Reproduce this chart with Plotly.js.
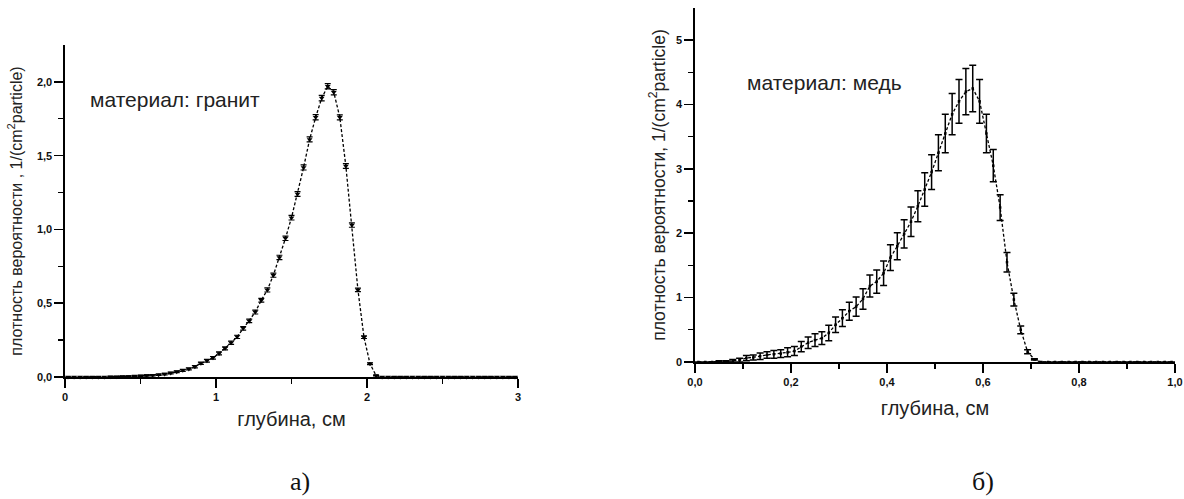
<!DOCTYPE html>
<html>
<head>
<meta charset="utf-8">
<script src="https://cdn.plot.ly/plotly-3.0.1.min.js"></script>
<style>html,body{margin:0;padding:0;background:#fff;}#chart{width:1184px;height:499px;}</style>
</head>
<body>
<div id="chart"></div>
<script>
// ---- Data: granite (left panel) ----
const graniteDepth = [0.02,0.06,0.10,0.14,0.18,0.22,0.26,0.30,0.34,0.38,0.42,0.46,0.50,0.54,0.58,0.62,0.66,0.70,0.74,0.78,0.82,0.86,0.90,0.94,0.98,1.02,1.06,1.10,1.14,1.18,1.22,1.26,1.30,1.34,1.38,1.42,1.46,1.50,1.54,1.58,1.62,1.66,1.70,1.74,1.78,1.82,1.86,1.90,1.94,1.98,2.02,2.06,2.10,2.14,2.18,2.22,2.26,2.30,2.34,2.38,2.42,2.46,2.50,2.54,2.58,2.62,2.66,2.70,2.74,2.78,2.82,2.86,2.90,2.94,2.98];
const granitePdf = [0,0,0,0,0,0,0,0.001,0.002,0.003,0.004,0.006,0.008,0.01,0.012,0.015,0.02,0.027,0.035,0.045,0.055,0.07,0.093,0.11,0.13,0.16,0.194,0.232,0.272,0.33,0.38,0.44,0.52,0.59,0.69,0.81,0.94,1.08,1.24,1.42,1.61,1.76,1.89,1.97,1.93,1.76,1.43,1.03,0.59,0.27,0.09,0.01,0,0,0,0,0,0,0,0,0,0,0,0,0,0,0,0,0,0,0,0,0,0,0];
const graniteErr = [0,0,0,0,0,0,0,0.003,0.003,0.003,0.003,0.004,0.004,0.004,0.005,0.005,0.005,0.006,0.006,0.007,0.007,0.008,0.008,0.009,0.009,0.01,0.01,0.011,0.011,0.012,0.012,0.013,0.013,0.014,0.014,0.015,0.015,0.016,0.016,0.017,0.017,0.018,0.018,0.018,0.018,0.017,0.016,0.015,0.012,0.009,0.006,0.003,0,0,0,0,0,0,0,0,0,0,0,0,0,0,0,0,0,0,0,0,0,0,0];

// ---- Data: copper (right panel) ----
const copperDepth = [0.0071,0.0214,0.0357,0.0500,0.0643,0.0786,0.0929,0.1071,0.1214,0.1357,0.1500,0.1643,0.1786,0.1929,0.2071,0.2214,0.2357,0.2500,0.2643,0.2786,0.2929,0.3071,0.3214,0.3357,0.3500,0.3643,0.3786,0.3929,0.4071,0.4214,0.4357,0.4500,0.4643,0.4786,0.4929,0.5071,0.5214,0.5357,0.5500,0.5643,0.5786,0.5929,0.6071,0.6214,0.6357,0.6500,0.6643,0.6786,0.6929,0.7071,0.7214,0.7357,0.7500,0.7643,0.7786,0.7929,0.8071,0.8214,0.8357,0.8500,0.8643,0.8786,0.8929,0.9071,0.9214,0.9357,0.9500,0.9643,0.9786,0.9929];
const copperPdf = [0,0,0,0.01,0.01,0.02,0.03,0.06,0.07,0.09,0.11,0.12,0.13,0.15,0.17,0.24,0.30,0.34,0.37,0.45,0.58,0.68,0.79,0.86,0.98,1.18,1.25,1.38,1.62,1.80,1.99,2.18,2.42,2.68,2.95,3.25,3.55,3.85,4.05,4.20,4.25,4.05,3.55,3.05,2.40,1.55,0.97,0.50,0.16,0.04,0,0,0,0,0,0,0,0,0,0,0,0,0,0,0,0,0,0,0,0];
const copperErr = [0,0,0,0.01,0.01,0.02,0.03,0.04,0.04,0.05,0.05,0.06,0.06,0.07,0.07,0.08,0.09,0.10,0.10,0.12,0.12,0.13,0.14,0.15,0.16,0.17,0.18,0.19,0.20,0.21,0.22,0.23,0.24,0.26,0.27,0.28,0.30,0.32,0.34,0.36,0.36,0.34,0.30,0.25,0.20,0.15,0.10,0.06,0.03,0.01,0,0,0,0,0,0,0,0,0,0,0,0,0,0,0,0,0,0,0,0];

// ---- Labels ----
const yTitleLeft = 'плотность вероятности , 1/(cm<sup>2</sup>particle)';
const yTitleRight = 'плотность вероятности, 1/(cm<sup>2</sup>particle)';
const xTitleText = 'глубина, см';
const labelGranite = 'материал: гранит';
const labelCopper = 'материал: медь';
const captionLeft = 'а)';
const captionRight = 'б)';

const W = 1184, H = 499;
const px = v => v / W;
const py = v => (H - v) / H;

const traceGranite = {
  x: graniteDepth, y: granitePdf, xaxis: 'x', yaxis: 'y',
  type: 'scatter', mode: 'lines+markers', cliponaxis: false,
  line: {color: 'black', width: 1.3, dash: '3px,2px'},
  marker: {symbol: 'triangle-down', size: 5, color: 'black'},
  error_y: {type: 'data', array: graniteErr, visible: true, color: 'black', thickness: 1.2, width: 3}
};
const traceCopper = {
  x: copperDepth, y: copperPdf, xaxis: 'x2', yaxis: 'y2',
  type: 'scatter', mode: 'lines+markers', cliponaxis: false,
  line: {color: 'black', width: 1.3, dash: '3px,2px'},
  marker: {symbol: 'square', size: 2.5, color: 'black'},
  error_y: {type: 'data', array: copperErr, visible: true, color: 'black', thickness: 1.5, width: 3.5}
};

const tickFont = {family: 'Liberation Sans, Arial, sans-serif', size: 11, color: '#111', weight: 'bold'};
const baseAxis = {
  showline: true, linecolor: 'black', linewidth: 1.6,
  ticks: 'outside', ticklen: 9, tickwidth: 1.6, tickcolor: 'black',
  showgrid: false, zeroline: false, automargin: false, fixedrange: true,
  tickfont: tickFont
};
const minorStyle = {ticks: 'outside', ticklen: 5, tickwidth: 1.3, tickcolor: 'black'};
const titleFont = {family: 'Liberation Sans, Arial, sans-serif', size: 20, color: '#222'};

const layout = {
  width: W, height: H,
  margin: {l: 0, r: 0, t: 0, b: 0},
  paper_bgcolor: 'white', plot_bgcolor: 'white',
  showlegend: false,
  separators: ', ',
  font: {family: 'Liberation Sans, Arial, sans-serif', color: '#111'},
  xaxis: Object.assign({}, baseAxis, {
    domain: [px(65), px(518)], anchor: 'y', range: [0, 3],
    tickvals: [0, 1, 2, 3], ticktext: ['0', '1', '2', '3'],
    minor: Object.assign({tickvals: [0.5, 1.5, 2.5]}, minorStyle),
    title: {text: xTitleText, font: titleFont, standoff: 10}
  }),
  yaxis: Object.assign({}, baseAxis, {
    domain: [py(377), py(45)], anchor: 'x', range: [0, 2.25],
    tickvals: [0, 0.5, 1, 1.5, 2], tickformat: '.1f',
    minor: Object.assign({tickvals: [0.25, 0.75, 1.25, 1.75]}, minorStyle),
    title: {text: yTitleLeft, font: {family: 'Liberation Sans, Arial, sans-serif', size: 16, color: '#222'}, standoff: 10}
  }),
  xaxis2: Object.assign({}, baseAxis, {
    domain: [px(695), px(1175)], anchor: 'y2', range: [0, 1],
    tickvals: [0, 0.2, 0.4, 0.6, 0.8, 1.0], tickformat: '.1f',
    minor: Object.assign({tickvals: [0.1, 0.3, 0.5, 0.7, 0.9]}, minorStyle),
    title: {text: xTitleText, font: titleFont, standoff: 14}
  }),
  yaxis2: Object.assign({}, baseAxis, {
    domain: [py(362), py(8)], anchor: 'x2', range: [0, 5.5],
    tickvals: [0, 1, 2, 3, 4, 5], tickformat: 'd',
    minor: Object.assign({tickvals: [0.5, 1.5, 2.5, 3.5, 4.5]}, minorStyle),
    title: {text: yTitleRight, font: {family: 'Liberation Sans, Arial, sans-serif', size: 17.5, color: '#222'}, standoff: 6}
  }),
  annotations: [
    {xref: 'paper', yref: 'paper', x: px(88), y: py(100), xanchor: 'left', yanchor: 'middle',
     text: labelGranite, showarrow: false, font: {size: 21, color: '#222'}},
    {xref: 'paper', yref: 'paper', x: px(745), y: py(82), xanchor: 'left', yanchor: 'middle',
     text: labelCopper, showarrow: false, font: {size: 21, color: '#222'}},
    {xref: 'paper', yref: 'paper', x: px(300), y: py(481), xanchor: 'center', yanchor: 'middle',
     text: captionLeft, showarrow: false, font: {family: 'Liberation Serif, Times New Roman, serif', size: 26, color: '#111'}},
    {xref: 'paper', yref: 'paper', x: px(983), y: py(481), xanchor: 'center', yanchor: 'middle',
     text: captionRight, showarrow: false, font: {family: 'Liberation Serif, Times New Roman, serif', size: 26, color: '#111'}}
  ]
};

Plotly.newPlot('chart', [traceGranite, traceCopper], layout, {displayModeBar: false, staticPlot: true});
</script>
</body>
</html>
